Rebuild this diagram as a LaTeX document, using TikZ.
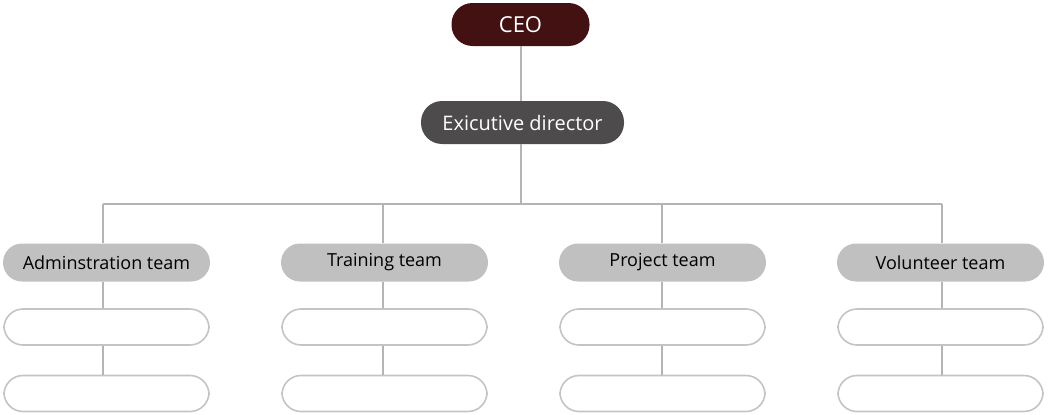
\documentclass[tikz,border=0pt]{standalone}
\usepackage{fontspec}
\setmainfont{Open Sans}
\begin{document}
\begin{tikzpicture}[x=1pt,y=-1pt,
  pill/.style={rounded corners=19pt, minimum height=38pt, minimum width=207pt, inner sep=0pt, font=\fontsize{18}{20}\selectfont},
  team/.style={pill, fill=teamgray, text=black},
  empty/.style={pill, draw=boxgray, line width=1.6pt, fill=white, minimum width=205pt, minimum height=36pt},
  conn/.style={draw=linegray, line width=1.6pt}]
\definecolor{ceored}{HTML}{431111}
\definecolor{execgray}{HTML}{4D4B4C}
\definecolor{teamgray}{HTML}{C0C0C0}
\definecolor{boxgray}{HTML}{C4C4C4}
\definecolor{linegray}{HTML}{B4B4B4}
\useasboundingbox (0,0) rectangle (1050,415);
\node[fill=ceored, text=white, rounded corners=21pt, minimum width=138pt, minimum height=43pt, inner sep=0pt, font=\fontsize{22}{24}\selectfont] (ceo) at (520.5,24.5) {CEO};
\node[fill=execgray, text=white, rounded corners=21pt, minimum width=203pt, minimum height=43pt, inner sep=0pt, font=\fontsize{20}{22}\selectfont] (exec) at (522.5,122.5) {Exicutive director};
\coordinate (bus) at (521,204);
\foreach \n/\x/\t in {a/106.5/Adminstration team, b/384.5/Training team, c/662.5/Project team, d/940.5/Volunteer team}{
  \node[team] (\n0) at (\x,262.5) {\t};
  \node[empty] (\n1) at (\x,327) {};
  \node[empty] (\n2) at (\x,393.5) {};
}
\coordinate (ba) at (103,204);
\coordinate (bd) at (942,204);
\coordinate (bb) at (383,204);
\coordinate (bc) at (662,204);
\draw[conn] (ceo.south -| 521,0) -- (exec.north -| 521,0);
\draw[conn] (exec.south -| 521,0) -- (bus);
\draw[conn] (ba) -- (bd);
\draw[conn] (ba) -- (ba |- a0.north);
\draw[conn] (bb) -- (bb |- b0.north);
\draw[conn] (bc) -- (bc |- c0.north);
\draw[conn] (bd) -- (bd |- d0.north);
\foreach \n/\x in {a/103,b/383,c/662,d/942}{
  \draw[conn] (\n0.south -| \x,0) -- (\n1.north -| \x,0);
  \draw[conn] (\n1.south -| \x,0) -- (\n2.north -| \x,0);
}
\end{tikzpicture}
\end{document}
